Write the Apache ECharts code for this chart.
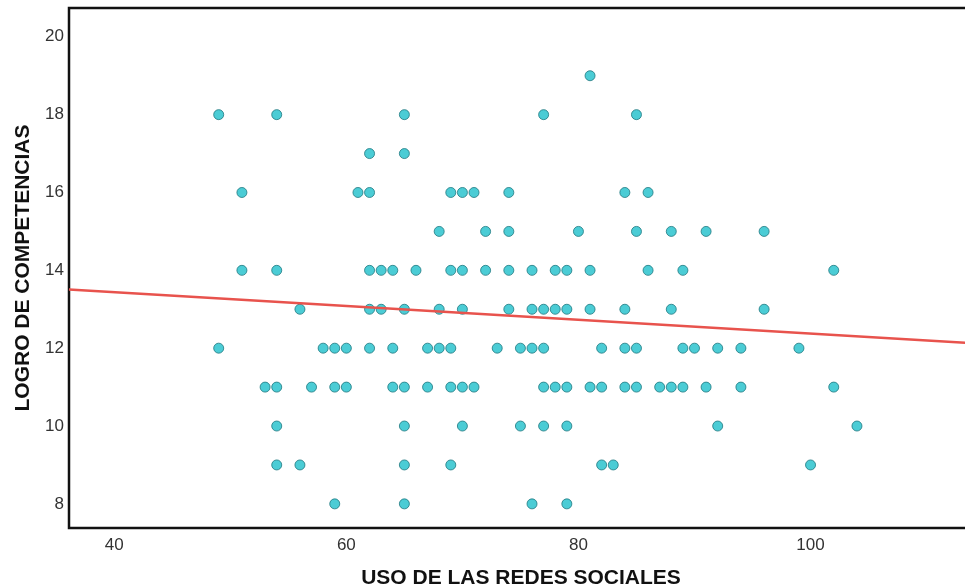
<!DOCTYPE html>
<html>
<head>
<meta charset="utf-8">
<script src="https://cdn.jsdelivr.net/npm/echarts@6/dist/echarts.min.js"></script>
<style>
  html, body { margin: 0; padding: 0; background: #fff; }
  #chart { width: 965px; height: 587px; }
</style>
</head>
<body>
<div id="chart"></div>
<script>
// x values (USO DE LAS REDES SOCIALES) per y level (LOGRO DE COMPETENCIAS)
const row8 = [59, 65, 76, 79]
const row9 = [54, 56, 65, 69, 82, 83, 100]
const row10 = [54, 65, 70, 75, 77, 79, 92, 104]
const row11 = [53, 54, 57, 59, 60, 64, 65, 67, 69, 70, 71, 77, 78, 79, 81, 82, 84, 85, 87, 88, 89, 91, 94, 102]
const row12 = [49, 58, 59, 60, 62, 64, 67, 68, 69, 73, 75, 76, 77, 82, 84, 85, 89, 90, 92, 94, 99]
const row13 = [56, 62, 63, 65, 68, 70, 74, 76, 77, 78, 79, 81, 84, 88, 96]
const row14 = [51, 54, 62, 63, 64, 66, 69, 70, 72, 74, 76, 78, 79, 81, 86, 89, 102]
const row15 = [68, 72, 74, 80, 85, 88, 91, 96]
const row16 = [51, 61, 62, 69, 70, 71, 74, 84, 86]
const row17 = [62, 65]
const row18 = [49, 54, 65, 77, 85]
const row19 = [81]

// fitted line end points
const fitX = [36.1, 114]
const fitY = [13.51, 12.13]

const xTicks = [40, 60, 80, 100]
const yTicks = [8, 10, 12, 14, 16, 18, 20]

const rows = { 8: row8, 9: row9, 10: row10, 11: row11, 12: row12, 13: row13, 14: row14, 15: row15, 16: row16, 17: row17, 18: row18, 19: row19 }
const points = []
Object.keys(rows).forEach((y) => rows[y].forEach((x) => points.push([x, Number(y)])))

const chart = echarts.init(document.getElementById('chart'))
const labelFont = { fontFamily: 'Liberation Sans, Arial, sans-serif', fontSize: 17, color: '#333' }
const nameFont = { fontFamily: 'Liberation Sans, Arial, sans-serif', fontSize: 21, fontWeight: 'bold', color: '#111' }

chart.setOption({
  animation: false,
  grid: {
    left: 69, top: 8, bottom: 59, right: -8,
    containLabel: false, outerBoundsMode: 'none',
    show: true, borderColor: '#111', borderWidth: 2.5, backgroundColor: '#fff'
  },
  xAxis: {
    type: 'value', min: 36.1, max: 114,
    name: 'USO DE LAS REDES SOCIALES', nameLocation: 'middle', nameGap: 40, nameTextStyle: nameFont,
    axisLine: { show: false }, axisTick: { show: false }, splitLine: { show: false },
    axisLabel: { ...labelFont, margin: 9, customValues: xTicks }
  },
  yAxis: {
    type: 'value', min: 7.38, max: 20.74,
    name: 'LOGRO DE COMPETENCIAS', nameLocation: 'middle', nameGap: 35, nameRotate: 90, nameTextStyle: nameFont,
    axisLine: { show: false }, axisTick: { show: false }, splitLine: { show: false },
    axisLabel: { ...labelFont, margin: 5, customValues: yTicks }
  },
  series: [
    {
      type: 'scatter',
      data: points,
      symbolSize: 10,
      itemStyle: { color: '#1ebfca', borderColor: '#1f7880', borderWidth: 1 },
      z: 3
    },
    {
      type: 'line',
      data: fitX.map((x, i) => [x, fitY[i]]),
      symbol: 'none',
      lineStyle: { color: '#e8534d', width: 2.5 },
      z: 4
    }
  ]
})
</script>
</body>
</html>
